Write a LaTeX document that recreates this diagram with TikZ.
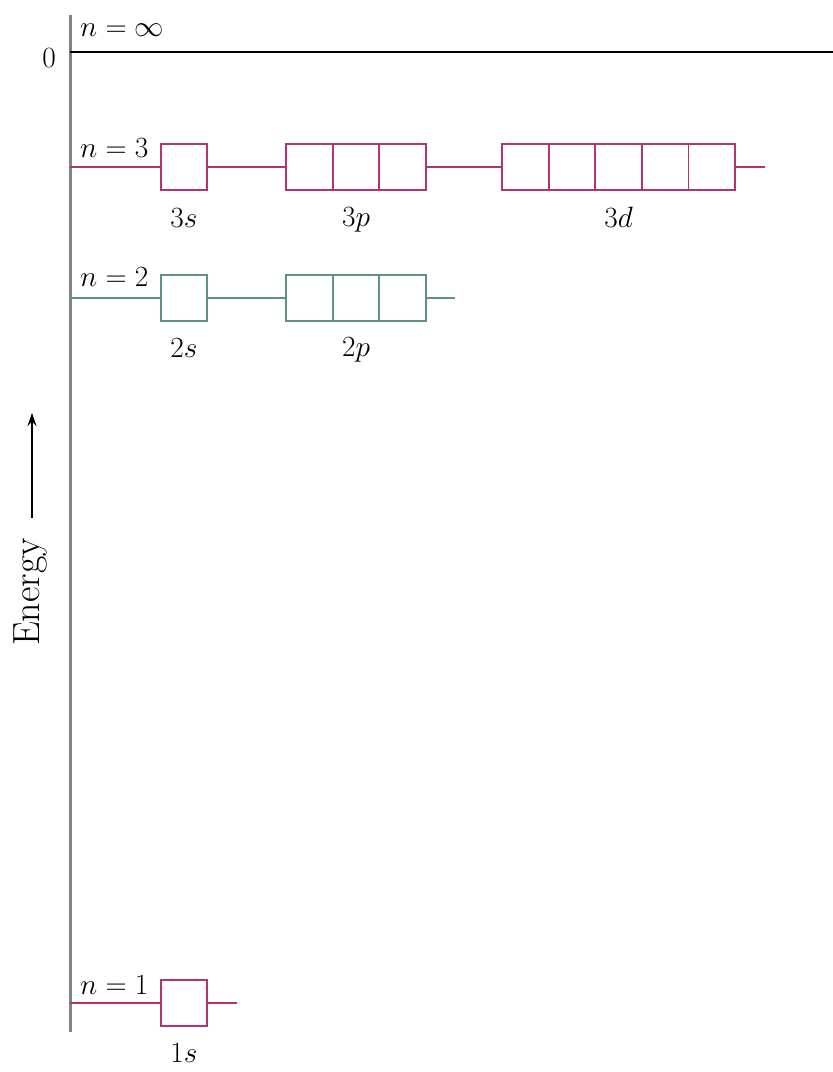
\documentclass[tikz,border=0pt]{standalone}
\usetikzlibrary{arrows.meta}
\definecolor{levelA}{RGB}{180,50,110}
\definecolor{levelB}{RGB}{92,148,128}
\definecolor{axisgray}{RGB}{130,130,130}
\tikzset{
  lvl/.style={line width=2pt},
  orb/.style={draw, line width=1.8pt, minimum width=46.6pt, minimum height=46pt,
              inner sep=0pt, outer sep=0pt, fill=white},
  % math fonts come in fixed sizes, so set at 24.88pt and enlarge the node
  lab/.style={font=\fontsize{24.88}{30}\selectfont, inner sep=0pt, scale=1.18},
}
\begin{document}
\begin{tikzpicture}[x=1pt,y=1pt]
  % canvas
  \fill[white] (0,0) rectangle (833,-1072);
  \useasboundingbox (0,0) rectangle (833,-1072);

  % energy axis
  \coordinate (axtop) at (70,-15);
  \coordinate (axbot) at (70,-1032);
  \draw[axisgray, line width=3pt] (axtop) -- (axbot);

  % ionisation limit
  \coordinate (inf0) at (70,-52);
  \coordinate (inf1) at (833,-52);
  \draw[black, line width=2pt] (inf0) -- (inf1);
  \node[lab, anchor=base west] (ninf) at (80,-36) {$n=\infty$};
  \node[lab, anchor=base] (zero) at (49,-67) {0};

  % n = 3
  \coordinate (a3) at (70,-167);
  \coordinate (e3) at (765,-167);
  \node[orb, draw=levelA] (s3) at (184,-167) {};
  \node[orb, draw=levelA] (p3a) at (309.3,-167) {};
  \node[orb, draw=levelA] (p3b) at (356,-167) {};
  \node[orb, draw=levelA] (p3c) at (402.7,-167) {};
  \node[orb, draw=levelA] (d3a) at (525.3,-167) {};
  \node[orb, draw=levelA] (d3b) at (571.9,-167) {};
  \node[orb, draw=levelA] (d3c) at (618.5,-167) {};
  \node[orb, draw=levelA] (d3d) at (665.1,-167) {};
  \node[orb, draw=levelA] (d3e) at (711.7,-167) {};
  \draw[lvl, levelA] (a3) -- (s3.west);
  \draw[lvl, levelA] (s3.east) -- (p3a.west);
  \draw[lvl, levelA] (p3c.east) -- (d3a.west);
  \draw[lvl, levelA] (d3e.east) -- (e3);
  \node[lab, anchor=base west] (n3) at (80,-157) {$n=3$};
  \node[lab, anchor=base] (l3s) at (184,-227) {$3s$};
  \node[lab, anchor=base] (l3p) at (356,-226) {$3p$};
  \node[lab, anchor=base] (l3d) at (618.5,-227) {$3d$};

  % n = 2
  \coordinate (a2) at (70,-298);
  \coordinate (e2) at (455,-298);
  \node[orb, draw=levelB] (s2) at (184,-298) {};
  \node[orb, draw=levelB] (p2a) at (309.3,-298) {};
  \node[orb, draw=levelB] (p2b) at (356,-298) {};
  \node[orb, draw=levelB] (p2c) at (402.7,-298) {};
  \draw[lvl, levelB] (a2) -- (s2.west);
  \draw[lvl, levelB] (s2.east) -- (p2a.west);
  \draw[lvl, levelB] (p2c.east) -- (e2);
  \node[lab, anchor=base west] (n2) at (80,-286) {$n=2$};
  \node[lab, anchor=base] (l2s) at (184,-357) {$2s$};
  \node[lab, anchor=base] (l2p) at (356,-356) {$2p$};

  % n = 1
  \coordinate (a1) at (70,-1003);
  \coordinate (e1) at (237,-1003);
  \node[orb, draw=levelA] (s1) at (184,-1003) {};
  \draw[lvl, levelA] (a1) -- (s1.west);
  \draw[lvl, levelA] (s1.east) -- (e1);
  \node[lab, anchor=base west] (n1) at (80,-994) {$n=1$};
  \node[lab, anchor=base] (l1s) at (184,-1062) {1$s$};

  % energy direction
  \coordinate (ea) at (32,-518);
  \coordinate (eb) at (32,-413);
  \draw[black, line width=1.5pt, -{Stealth[length=13pt,width=9pt]}] (ea) -- (eb);
  \node[lab, rotate=90, scale=1.29] (energy) at (30,-592) {Energy};
\end{tikzpicture}
\end{document}
